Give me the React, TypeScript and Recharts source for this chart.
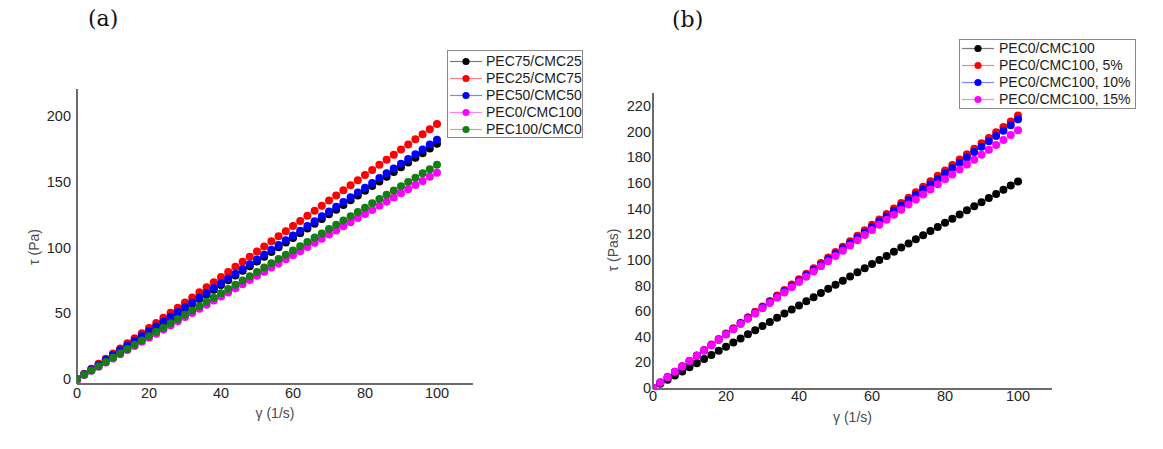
import React from 'react';
import { LineChart, Line, XAxis, YAxis, Legend } from 'recharts';

// ---------- data ----------
const shearRate = [
  0, 2, 4, 6, 8, 10, 12, 14, 16, 18, 20, 22, 24, 26, 28, 30, 32, 34, 36, 38, 40,
  42, 44, 46, 48, 50, 52, 54, 56, 58, 60, 62, 64, 66, 68, 70, 72, 74, 76, 78, 80,
  82, 84, 86, 88, 90, 92, 94, 96, 98, 100,
];

// panel (a)
const tauPEC75CMC25 = [
  0, 3.6, 7.2, 10.7, 14.3, 17.9, 21.5, 25.1, 28.6, 32.2,
  35.8, 39.4, 43.0, 46.5, 50.1, 53.7, 57.3, 60.9, 64.4, 68.0,
  71.6, 75.2, 78.8, 82.3, 85.9, 89.5, 93.1, 96.7, 100.2, 103.8,
  107.4, 111.0, 114.6, 118.1, 121.7, 125.3, 128.9, 132.5, 136.0, 139.6,
  143.2, 146.8, 150.4, 153.9, 157.5, 161.1, 164.7, 168.3, 171.8, 175.4,
  179.0,
];
const tauPEC25CMC75 = [
  0, 3.9, 7.8, 11.6, 15.5, 19.4, 23.3, 27.2, 31.0, 34.9,
  38.8, 42.7, 46.6, 50.4, 54.3, 58.2, 62.1, 66.0, 69.8, 73.7,
  77.6, 81.5, 85.4, 89.2, 93.1, 97.0, 100.9, 104.8, 108.6, 112.5,
  116.4, 120.3, 124.2, 128.0, 131.9, 135.8, 139.7, 143.6, 147.4, 151.3,
  155.2, 159.1, 163.0, 166.8, 170.7, 174.6, 178.5, 182.4, 186.2, 190.1,
  194.0,
];
const tauPEC50CMC50 = [
  0, 3.6, 7.3, 10.9, 14.6, 18.2, 21.8, 25.5, 29.1, 32.8,
  36.4, 40.0, 43.7, 47.3, 51.0, 54.6, 58.2, 61.9, 65.5, 69.2,
  72.8, 76.4, 80.1, 83.7, 87.4, 91.0, 94.6, 98.3, 101.9, 105.6,
  109.2, 112.8, 116.5, 120.1, 123.8, 127.4, 131.0, 134.7, 138.3, 142.0,
  145.6, 149.2, 152.9, 156.5, 160.2, 163.8, 167.4, 171.1, 174.7, 178.4,
  182.0,
];
const tauPEC0CMC100a = [
  -1, 3.1, 6.3, 9.4, 12.6, 15.7, 18.8, 22.0, 25.1, 28.3,
  31.4, 34.5, 37.7, 40.8, 44.0, 47.1, 50.2, 53.4, 56.5, 59.7,
  62.8, 65.9, 69.1, 72.2, 75.4, 78.5, 81.6, 84.8, 87.9, 91.1,
  94.2, 97.3, 100.5, 103.6, 106.8, 109.9, 113.0, 116.2, 119.3, 122.5,
  125.6, 128.7, 131.9, 135.0, 138.2, 141.3, 144.4, 147.6, 150.7, 153.9,
  157.0,
];
const tauPEC100CMC0 = [
  0, 3.3, 6.5, 9.8, 13.0, 16.3, 19.6, 22.8, 26.1, 29.3,
  32.6, 35.9, 39.1, 42.4, 45.6, 48.9, 52.2, 55.4, 58.7, 61.9,
  65.2, 68.5, 71.7, 75.0, 78.2, 81.5, 84.8, 88.0, 91.3, 94.5,
  97.8, 101.1, 104.3, 107.6, 110.8, 114.1, 117.4, 120.6, 123.9, 127.1,
  130.4, 133.7, 136.9, 140.2, 143.4, 146.7, 150.0, 153.2, 156.5, 159.7,
  163.0,
];

// panel (b)
const tauCMC100 = [
  0, 3.2, 6.4, 9.7, 12.9, 16.1, 19.3, 22.5, 25.8, 29.0,
  32.2, 35.4, 38.6, 41.9, 45.1, 48.3, 51.5, 54.7, 58.0, 61.2,
  64.4, 67.6, 70.8, 74.1, 77.3, 80.5, 83.7, 86.9, 90.2, 93.4,
  96.6, 99.8, 103.0, 106.3, 109.5, 112.7, 115.9, 119.1, 122.4, 125.6,
  128.8, 132.0, 135.2, 138.5, 141.7, 144.9, 148.1, 151.3, 154.6, 157.8,
  161.0,
];
const tauCMC100p5 = [
  0, 4.2, 8.5, 12.7, 17.0, 21.2, 25.4, 29.7, 33.9, 38.2,
  42.4, 46.6, 50.9, 55.1, 59.4, 63.6, 67.8, 72.1, 76.3, 80.6,
  84.8, 89.0, 93.3, 97.5, 101.8, 106.0, 110.2, 114.5, 118.7, 123.0,
  127.2, 131.4, 135.7, 139.9, 144.2, 148.4, 152.6, 156.9, 161.1, 165.4,
  169.6, 173.8, 178.1, 182.3, 186.6, 190.8, 195.0, 199.3, 203.5, 207.8,
  212.5,
];
const tauCMC100p10 = [
  0, 4.2, 8.4, 12.5, 16.7, 20.9, 25.1, 29.3, 33.4, 37.6,
  41.8, 46.0, 50.2, 54.3, 58.5, 62.7, 66.9, 71.1, 75.2, 79.4,
  83.6, 87.8, 92.0, 96.1, 100.3, 104.5, 108.7, 112.9, 117.0, 121.2,
  125.4, 129.6, 133.8, 137.9, 142.1, 146.3, 150.5, 154.7, 158.8, 163.0,
  167.2, 171.4, 175.6, 179.7, 183.9, 188.1, 192.3, 196.5, 200.6, 204.8,
  209.5,
];
const tauCMC100p15 = [
  0, 4.2, 8.4, 12.6, 16.8, 21.0, 25.1, 29.3, 33.4, 37.6,
  41.7, 45.8, 49.9, 54.0, 58.1, 62.2, 66.3, 70.4, 74.5, 78.6,
  82.7, 86.8, 90.8, 94.9, 98.9, 103.0, 107.0, 111.1, 115.1, 119.2,
  123.2, 127.2, 131.1, 135.1, 139.0, 143.0, 146.9, 150.9, 154.8, 158.8,
  162.7, 166.5, 170.4, 174.2, 178.0, 181.9, 185.7, 189.5, 193.3, 197.2,
  201.0,
];

const leftNames = ['PEC75/CMC25', 'PEC25/CMC75', 'PEC50/CMC50', 'PEC0/CMC100', 'PEC100/CMC0'];
const rightNames = ['PEC0/CMC100', 'PEC0/CMC100, 5%', 'PEC0/CMC100, 10%', 'PEC0/CMC100, 15%'];

const xTicks = [0, 20, 40, 60, 80, 100];
const leftYTicks = [0, 50, 100, 150, 200];
const rightYTicks = [0, 20, 40, 60, 80, 100, 120, 140, 160, 180, 200, 220];

// ---------- styles ----------
const leftDotColors = ['#000000', '#ff0000', '#0000ff', '#ff00ff', '#147d14'];
const leftLineColors = ['#7a7a7a', '#ff8080', '#8080ff', '#ff80ff', '#b3b386'];
const rightDotColors = ['#000000', '#ff0000', '#0000ff', '#ff00ff'];
const rightLineColors = ['#7a7a7a', '#ff8080', '#8080ff', '#ff80ff'];

const SANS = '"Liberation Sans", Arial, Helvetica, sans-serif';
const SERIF = '"DejaVu Serif", "Liberation Serif", serif';
const DOT_R = 4;

type Series = { key: string; name: string; values: number[]; dot: string; line: string };

const leftValues = [tauPEC75CMC25, tauPEC25CMC75, tauPEC50CMC50, tauPEC0CMC100a, tauPEC100CMC0];
const rightValues = [tauCMC100, tauCMC100p5, tauCMC100p10, tauCMC100p15];

const leftSeries: Series[] = leftNames.map((n, i) => ({
  key: 'a' + i, name: n, values: leftValues[i], dot: leftDotColors[i], line: leftLineColors[i],
}));
const rightSeries: Series[] = rightNames.map((n, i) => ({
  key: 'b' + i, name: n, values: rightValues[i], dot: rightDotColors[i], line: rightLineColors[i],
}));

const buildRows = (series: Series[]) =>
  shearRate.map((x, i) => {
    const row: Record<string, number> = { x };
    series.forEach((s) => { row[s.key] = s.values[i]; });
    return row;
  });

const leftRows = buildRows(leftSeries);
const rightRows = buildRows(rightSeries);

type LegendDims = { padTop: number; padLeft: number; swatch: number; gap: number };

const makeLegend = (series: Series[], d: LegendDims) => () => (
  <div
    style={{
      background: '#fff',
      border: '1px solid #8a8a8a',
      boxSizing: 'border-box',
      paddingTop: d.padTop,
      fontFamily: SANS,
      fontSize: 14,
      color: '#1c1c1c',
      width: '100%',
      height: '100%',
    }}
  >
    {series.map((s) => (
      <div key={s.key} style={{ height: 17, display: 'flex', alignItems: 'center', whiteSpace: 'nowrap' }}>
        <svg width={d.swatch} height={17} style={{ marginLeft: d.padLeft, flex: 'none' }}>
          <line x1={0} x2={d.swatch} y1={8.5} y2={8.5} stroke={s.line} strokeWidth={1.2} />
          <circle cx={d.swatch / 2} cy={8.5} r={3.6} fill={s.dot} />
        </svg>
        <span style={{ marginLeft: d.gap, lineHeight: '17px' }}>{s.name}</span>
      </div>
    ))}
  </div>
);

const makeYLabel = (text: string, dx: number, dy: number) => (props: any) => {
  const vb = props.viewBox || {};
  const cx = vb.x + vb.width + dx;
  const cy = vb.y + vb.height / 2 + dy;
  return (
    <text
      x={cx}
      y={cy}
      transform={`rotate(-90 ${cx} ${cy})`}
      textAnchor="middle"
      dominantBaseline="central"
      fontFamily={SANS}
      fontSize={14}
      fill="#4a4a4a"
    >
      {text}
    </text>
  );
};

const makeXLabel = (text: string, dy: number) => (props: any) => {
  const vb = props.viewBox || {};
  const cx = vb.x + vb.width / 2;
  const cy = vb.y + dy;
  return (
    <text x={cx} y={cy} textAnchor="middle" dominantBaseline="central" fontFamily={SANS} fontSize={14} fill="#4a4a4a">
      {text}
    </text>
  );
};

const axisLine = { stroke: '#3a3a3a', strokeWidth: 1.5 };
const tickStyle = { fill: '#262626', fontSize: 14.5, fontFamily: SANS };

const renderLines = (series: Series[]) =>
  series.map((s) => (
    <Line
      key={s.key}
      type="linear"
      dataKey={s.key}
      name={s.name}
      stroke={s.line}
      strokeWidth={1}
      dot={{ r: DOT_R, fill: s.dot, stroke: 'none' }}
      activeDot={false}
      isAnimationActive={false}
    />
  ));

export default function App() {
  return (
    <div
      style={{
        position: 'absolute',
        left: 0,
        top: 0,
        width: 1163,
        height: 449,
        background: '#fff',
        overflow: 'hidden',
      }}
    >
      <div style={{ position: 'absolute', left: 88, top: 6, fontFamily: SERIF, fontSize: 22, color: '#111' }}>
        (a)
      </div>
      <div style={{ position: 'absolute', left: 672, top: 7, fontFamily: SERIF, fontSize: 22, color: '#111' }}>
        (b)
      </div>

      <div style={{ position: 'absolute', left: 0, top: 0 }}>
        <LineChart width={595} height={449} data={leftRows} margin={{ top: 89, right: 122, left: 37, bottom: 35 }}>
          <XAxis
            type="number"
            dataKey="x"
            domain={[0, 110]}
            ticks={xTicks}
            allowDataOverflow
            axisLine={axisLine}
            tickLine={false}
            tickSize={0}
            tickMargin={4}
            tick={tickStyle}
            height={30}
            label={{ content: makeXLabel('γ (1/s)', 29) }}
          />
          <YAxis
            type="number"
            domain={[-3.8, 220.7]}
            ticks={leftYTicks}
            allowDataOverflow
            axisLine={axisLine}
            tickLine={false}
            tickSize={0}
            tickMargin={6}
            tick={tickStyle}
            width={40}
            label={{ content: makeYLabel('τ (Pa)', -43, 10.5) }}
          />
          {renderLines(leftSeries)}
          <Legend
            layout="vertical"
            align="center"
            verticalAlign="middle"
            wrapperStyle={{ left: 447, top: 50, width: 136, height: 88 }}
            content={makeLegend(leftSeries, { padTop: 2, padLeft: 2, swatch: 32, gap: 4 })}
          />
        </LineChart>
      </div>

      <div style={{ position: 'absolute', left: 595, top: 0 }}>
        <LineChart width={568} height={449} data={rightRows} margin={{ top: 93, right: 111, left: 18, bottom: 30 }}>
          <XAxis
            type="number"
            dataKey="x"
            domain={[0, 109.3]}
            ticks={xTicks}
            allowDataOverflow
            axisLine={axisLine}
            tickLine={false}
            tickSize={0}
            tickMargin={2}
            tick={tickStyle}
            height={30}
            label={{ content: makeXLabel('γ (1/s)', 28) }}
          />
          <YAxis
            type="number"
            domain={[-0.8, 230]}
            ticks={rightYTicks}
            allowDataOverflow
            axisLine={axisLine}
            tickLine={false}
            tickSize={0}
            tickMargin={2}
            tick={tickStyle}
            width={40}
            label={{ content: makeYLabel('τ (Pas)', -40, 9) }}
          />
          {renderLines(rightSeries)}
          <Legend
            layout="vertical"
            align="center"
            verticalAlign="middle"
            wrapperStyle={{ left: 364, top: 39, width: 177, height: 70 }}
            content={makeLegend(rightSeries, { padTop: 0, padLeft: 2, swatch: 32, gap: 5 })}
          />
        </LineChart>
      </div>
    </div>
  );
}
